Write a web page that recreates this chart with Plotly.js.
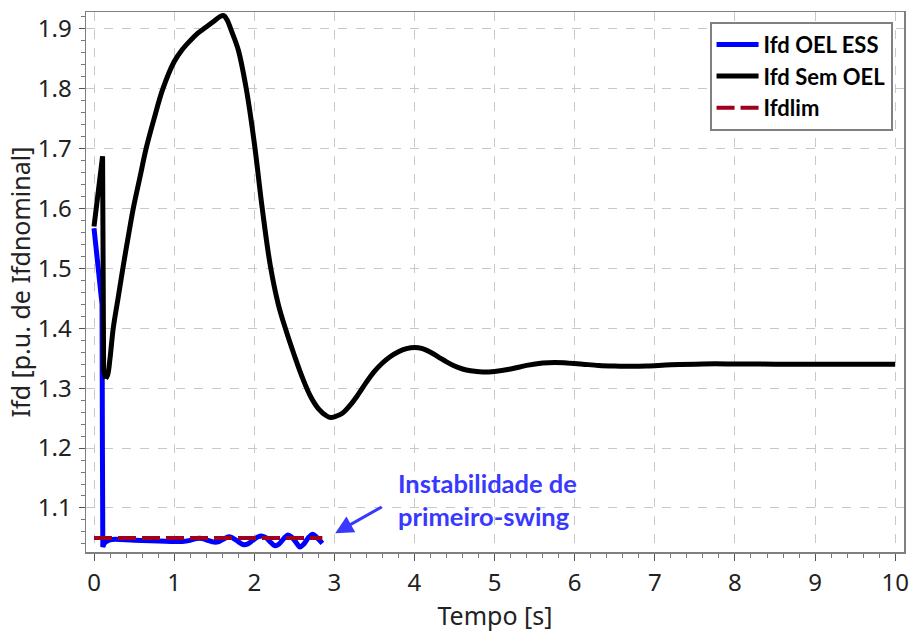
<!DOCTYPE html>
<html>
<head>
<meta charset="utf-8">
<script src="https://cdn.plot.ly/plotly-3.0.1.min.js"></script>
<style>html,body{margin:0;padding:0;background:#fff;}#chart{width:912px;height:634px;}</style>
</head>
<body>
<div id="chart"></div>
<script>
// ---- Data ----
// Ifd Sem OEL: fast initial transient (straight segments) and the rest (smooth)
const semOelEarlyT = [0, 0.05, 0.1, 0.107, 0.12, 0.145];
const semOelEarlyY = [1.570, 1.630, 1.687, 1.687, 1.330, 1.316];
const semOelT = [0.145, 0.17, 0.2, 0.24, 0.30, 0.36, 0.43, 0.49, 0.57, 0.65, 0.75, 0.86, 1.0, 1.1, 1.2, 1.3, 1.4, 1.5, 1.58, 1.62, 1.66, 1.72, 1.8, 1.9, 2.0, 2.1, 2.2, 2.3, 2.4, 2.5, 2.6, 2.7, 2.8, 2.9, 2.95, 3.0, 3.1, 3.2, 3.3, 3.4, 3.5, 3.6, 3.7, 3.8, 3.9, 4.0, 4.1, 4.2, 4.3, 4.4, 4.5, 4.6, 4.7, 4.85, 5.0, 5.2, 5.4, 5.6, 5.75, 5.9, 6.1, 6.3, 6.5, 6.7, 6.9, 7.2, 7.6, 8.0, 8.5, 9.0, 9.5, 10.0];
const semOelY = [1.316, 1.322, 1.350, 1.400, 1.450, 1.500, 1.555, 1.600, 1.650, 1.700, 1.750, 1.800, 1.845, 1.865, 1.880, 1.893, 1.903, 1.913, 1.921, 1.922, 1.915, 1.895, 1.865, 1.800, 1.710, 1.600, 1.505, 1.440, 1.395, 1.355, 1.318, 1.287, 1.266, 1.254, 1.251, 1.252, 1.258, 1.272, 1.290, 1.310, 1.328, 1.342, 1.353, 1.361, 1.366, 1.368, 1.366, 1.360, 1.352, 1.344, 1.337, 1.332, 1.329, 1.327, 1.328, 1.332, 1.338, 1.342, 1.343, 1.342, 1.340, 1.338, 1.337, 1.3365, 1.337, 1.339, 1.3405, 1.3405, 1.340, 1.340, 1.340, 1.340];

// Ifd OEL ESS: initial drop (straight segments) and the oscillation (smooth)
const oelEssEarlyT = [0, 0.05, 0.1, 0.105, 0.11, 0.13];
const oelEssEarlyY = [1.567, 1.500, 1.440, 1.200, 1.035, 1.042];
const oelEssT = [0.13, 0.2, 0.5, 0.8, 1.0, 1.1, 1.2, 1.28, 1.35, 1.42, 1.5, 1.56, 1.63, 1.68, 1.73, 1.8, 1.86, 1.92, 1.98, 2.05, 2.1, 2.15, 2.21, 2.26, 2.31, 2.37, 2.42, 2.47, 2.53, 2.57, 2.62, 2.68, 2.73, 2.78, 2.85];
const oelEssY = [1.042, 1.047, 1.046, 1.045, 1.044, 1.044, 1.046, 1.049, 1.049, 1.046, 1.043, 1.044, 1.049, 1.052, 1.050, 1.044, 1.039, 1.040, 1.046, 1.052, 1.053, 1.050, 1.042, 1.037, 1.040, 1.049, 1.055, 1.051, 1.041, 1.035, 1.040, 1.051, 1.056, 1.051, 1.041];

const ifdlimT = [0, 2.85];
const ifdlimY = [1.05, 1.05];

const xTicks = [0, 1, 2, 3, 4, 5, 6, 7, 8, 9, 10];
const yTicks = [1.1, 1.2, 1.3, 1.4, 1.5, 1.6, 1.7, 1.8, 1.9];
const yTickText = ['1.1', '1.2', '1.3', '1.4', '1.5', '1.6', '1.7', '1.8', '1.9'];

const names = ['Ifd OEL ESS', 'Ifd Sem OEL', 'Ifdlim'];
const xTitle = 'Tempo [s]';
const yTitle = 'Ifd [p.u. de Ifdnominal]';
const noteText = 'Instabilidade de<br>primeiro-swing';
const notePos = [4.91, 1.114];
const arrowHead = [3.01, 1.058];

// ---- Traces ----
const BLUE = '#0000ff', BLACK = '#000000', RED = '#a0001e';
const traces = [
  {x: oelEssT, y: oelEssY, name: names[0], mode: 'lines', legendgroup: 'a',
   line: {color: BLUE, width: 5, shape: 'spline', smoothing: 1}},
  {x: oelEssEarlyT, y: oelEssEarlyY, name: names[0], mode: 'lines', legendgroup: 'a', showlegend: false,
   line: {color: BLUE, width: 5}},
  {x: semOelT, y: semOelY, name: names[1], mode: 'lines', legendgroup: 'b',
   line: {color: BLACK, width: 5, shape: 'spline', smoothing: 1}},
  {x: semOelEarlyT, y: semOelEarlyY, name: names[1], mode: 'lines', legendgroup: 'b', showlegend: false,
   line: {color: BLACK, width: 5}},
  {x: ifdlimT, y: ifdlimY, name: names[2], mode: 'lines', legendgroup: 'c',
   line: {color: RED, width: 4, dash: '18px,6px'}}
];

const tickFont = {family: 'Noto Sans, sans-serif', size: 24, color: '#222'};
const titleFont = {family: 'Noto Sans, sans-serif', size: 25, color: '#222'};

const layout = {
  width: 912, height: 634,
  margin: {l: 86, r: 8, t: 12, b: 82},
  paper_bgcolor: '#fff', plot_bgcolor: '#fff',
  showlegend: true,
  xaxis: {
    range: [-0.1, 10.11], tickvals: xTicks, ticks: 'outside', ticklen: 7,
    tickcolor: '#555', tickwidth: 1, ticklabelstandoff: 2,
    showline: true, linecolor: '#808080', linewidth: 1.5, mirror: true,
    showgrid: true, gridcolor: '#c8c8c8', griddash: 'dash', gridwidth: 1,
    zeroline: false, tickfont: tickFont,
    minor: {dtick: 0.2, ticks: 'outside', ticklen: 4, tickcolor: '#777', showgrid: false},
    title: {text: xTitle, font: titleFont, standoff: 7}
  },
  yaxis: {
    range: [1.0265, 1.928], tickvals: yTicks, ticktext: yTickText, ticks: 'outside', ticklen: 6,
    tickcolor: '#555', tickwidth: 1, ticklabelstandoff: 2,
    showline: true, linecolor: '#808080', linewidth: 1.5, mirror: true,
    showgrid: true, gridcolor: '#c8c8c8', griddash: 'dash', gridwidth: 1,
    zeroline: false, tickfont: tickFont,
    minor: {dtick: 0.02, ticks: 'outside', ticklen: 4, tickcolor: '#777', showgrid: false},
    title: {text: yTitle, font: titleFont, standoff: 0}
  },
  legend: {
    x: 0.986, xanchor: 'right', y: 0.982, yanchor: 'top',
    bgcolor: '#fff', bordercolor: '#808080', borderwidth: 2,
    font: {family: 'Lato, sans-serif', size: 22, color: '#000', weight: 'bold'},
    tracegroupgap: 0, traceorder: 'grouped', itemwidth: 42
  },
  annotations: [
    {x: notePos[0], y: notePos[1], xref: 'x', yref: 'y', text: noteText, showarrow: false,
     font: {family: 'Lato, sans-serif', size: 25.5, color: '#3838ff', weight: 'bold'}, align: 'left'},
    {x: arrowHead[0], y: arrowHead[1], xref: 'x', yref: 'y', text: '', showarrow: true,
     ax: 48, ay: -27, arrowcolor: '#3838ff', arrowwidth: 3, arrowhead: 2, arrowsize: 1.2}
  ]
};

Plotly.newPlot('chart', traces, layout, {displayModeBar: false, staticPlot: true});
</script>
</body>
</html>
